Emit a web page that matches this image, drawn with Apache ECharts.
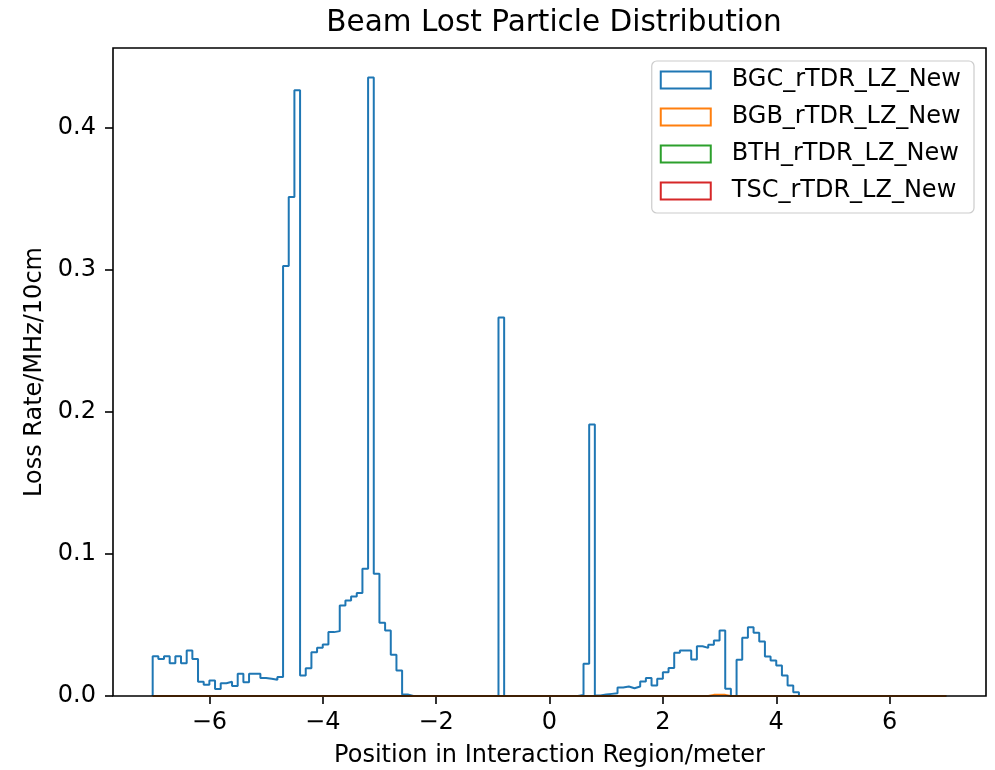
<!DOCTYPE html>
<html>
<head>
<meta charset="utf-8">
<script src="https://cdn.jsdelivr.net/npm/echarts@6/dist/echarts.min.js"></script>
<style>
  html, body { margin: 0; padding: 0; background: #fff; }
  #chart_loss { width: 995px; height: 770px; }
</style>
</head>
<body>
<div id="chart_loss"></div>
<script>
// histogram bins: 140 bins of 10cm from -7m to 7m
var binStart = -7.0;
var binWidth = 0.1;

var seriesNames = ['BGC_rTDR_LZ_New', 'BGB_rTDR_LZ_New', 'BTH_rTDR_LZ_New', 'TSC_rTDR_LZ_New'];
var seriesColors = ['#1f77b4', '#ff7f0e', '#2ca02c', '#d62728'];

// BGC loss rate per bin
var bgcValues = [
  0.028, 0.026, 0.028, 0.023, 0.028, 0.023, 0.032, 0.026, 0.010, 0.008,
  0.011, 0.005, 0.009, 0.010, 0.007, 0.0156, 0.0097, 0.0156, 0.0156, 0.0126,
  0.0121, 0.0114, 0.0133, 0.303, 0.3515, 0.4267, 0.0144, 0.0196, 0.0309, 0.034,
  0.0363, 0.045, 0.0457, 0.0638, 0.0673, 0.0701, 0.0725, 0.0896, 0.4357, 0.0861,
  0.0516, 0.0462, 0.029, 0.018, 0.001, 0, 0, 0, 0, 0,
  0, 0, 0, 0, 0, 0, 0, 0, 0, 0,
  0, 0.2667, 0, 0, 0, 0, 0, 0, 0, 0,
  0, 0, 0, 0, 0, 0.0008, 0.0227, 0.1913, 0.0003, 0.001,
  0.0015, 0.002, 0.006, 0.0067, 0.0055, 0.0067, 0.0102, 0.0126, 0.0074, 0.0121,
  0.0168, 0.0198, 0.0304, 0.0321, 0.0321, 0.0257, 0.0351, 0.0339, 0.0361, 0.0391,
  0.0462, 0.0051, 0, 0.0255, 0.041, 0.0485, 0.0445, 0.0384, 0.0278, 0.025,
  0.0215, 0.0144, 0.0074, 0.0027, 0, 0, 0, 0, 0, 0,
  0, 0, 0, 0, 0, 0, 0, 0, 0, 0,
  0, 0, 0, 0, 0, 0, 0, 0, 0, 0
];
// BGB: only a tiny bump around 2.8-3.1m
var bgbValues = [
  0, 0, 0, 0, 0, 0, 0, 0, 0, 0, 0, 0, 0, 0, 0, 0, 0, 0, 0, 0,
  0, 0, 0, 0, 0, 0, 0, 0, 0, 0, 0, 0, 0, 0, 0, 0, 0, 0, 0, 0,
  0, 0, 0, 0, 0, 0, 0, 0, 0, 0, 0, 0, 0, 0, 0, 0, 0, 0, 0, 0,
  0, 0, 0, 0, 0, 0, 0, 0, 0, 0, 0, 0, 0, 0, 0, 0, 0, 0, 0, 0,
  0, 0, 0, 0, 0, 0, 0, 0, 0, 0, 0, 0, 0, 0, 0, 0, 0, 0, 0.0008, 0.0008,
  0.0008, 0, 0, 0, 0, 0, 0, 0, 0, 0, 0, 0, 0, 0, 0, 0, 0, 0, 0, 0,
  0, 0, 0, 0, 0, 0, 0, 0, 0, 0, 0, 0, 0, 0, 0, 0, 0, 0, 0, 0
];
// BTH and TSC draw nothing visible
var bthValues = [];
var tscValues = [];

var xTicks = [-6, -4, -2, 0, 2, 4, 6];
var yTicks = [0, 0.1, 0.2, 0.3, 0.4];

// step outline like hist(histtype='step')
function stepPath(values) {
  if (!values.length) return [];
  var pts = [[binStart, 0]];
  for (var i = 0; i < values.length; i++) {
    var x0 = +(binStart + i * binWidth).toFixed(4);
    var x1 = +(binStart + (i + 1) * binWidth).toFixed(4);
    pts.push([x0, values[i]], [x1, values[i]]);
  }
  pts.push([+(binStart + values.length * binWidth).toFixed(4), 0]);
  return pts;
}

var allValues = [bgcValues, bgbValues, bthValues, tscValues];
var font = 'DejaVu Sans';

var chart = echarts.init(document.getElementById('chart_loss'));
var option = {
  animation: false,
  backgroundColor: '#fff',
  title: {
    text: 'Beam Lost Particle Distribution',
    left: 549,
    textAlign: 'center',
    top: 3,
    textStyle: { fontFamily: font, fontSize: 29.5, fontWeight: 'normal', color: '#000' }
  },
  grid: {
    left: 113, top: 48, width: 873, height: 648,
    outerBoundsMode: 'none',
    show: true, borderColor: '#000', borderWidth: 1.6,
    backgroundColor: 'transparent', z: 5
  },
  legend: {
    orient: 'vertical',
    right: 21, top: 61,
    icon: 'rect',
    itemWidth: 50, itemHeight: 17,
    itemGap: 13,
    padding: [7, 13, 10, 8],
    backgroundColor: 'rgba(255,255,255,0.8)',
    borderColor: '#cccccc', borderWidth: 1.2, borderRadius: 5,
    textStyle: { fontFamily: font, fontSize: 24, color: '#000', padding: [0, 0, 0, 16] },
    data: seriesNames.map(function (n, i) {
      return { name: n, itemStyle: { color: '#fff', borderColor: seriesColors[i], borderWidth: 2 } };
    })
  },
  xAxis: {
    type: 'value',
    min: -7.7, max: 7.7,
    name: 'Position in Interaction Region/meter',
    nameLocation: 'middle',
    nameGap: 48,
    nameTextStyle: { fontFamily: font, fontSize: 24, color: '#000' },
    axisLine: { show: false, onZero: false },
    axisTick: { show: true, length: 8, lineStyle: { color: '#000', width: 1.6 }, customValues: xTicks },
    axisLabel: {
      fontFamily: font, fontSize: 24, color: '#000', margin: 15,
      customValues: xTicks,
      formatter: function (v) { return String(v).replace('-', '\u2212'); }
    },
    splitLine: { show: false }
  },
  yAxis: {
    type: 'value',
    min: 0, max: 0.4565,
    name: 'Loss Rate/MHz/10cm',
    nameLocation: 'middle',
    nameGap: 63,
    nameRotate: 90,
    nameTextStyle: { fontFamily: font, fontSize: 24, color: '#000' },
    axisLine: { show: false, onZero: false },
    axisTick: { show: true, length: 8, lineStyle: { color: '#000', width: 1.6 }, customValues: yTicks },
    axisLabel: {
      fontFamily: font, fontSize: 24, color: '#000', margin: 17,
      customValues: yTicks,
      formatter: function (v) { return v.toFixed(1); }
    },
    splitLine: { show: false }
  },
  series: seriesNames.map(function (n, i) {
    return {
      name: n,
      type: 'line',
      data: stepPath(allValues[i]),
      showSymbol: false,
      symbol: 'none',
      color: seriesColors[i],
      lineStyle: { color: seriesColors[i], width: 2 },
      clip: true,
      z: 2 + i
    };
  })
};
chart.setOption(option);
window.addEventListener('resize', chart.resize);
</script>
</body>
</html>
